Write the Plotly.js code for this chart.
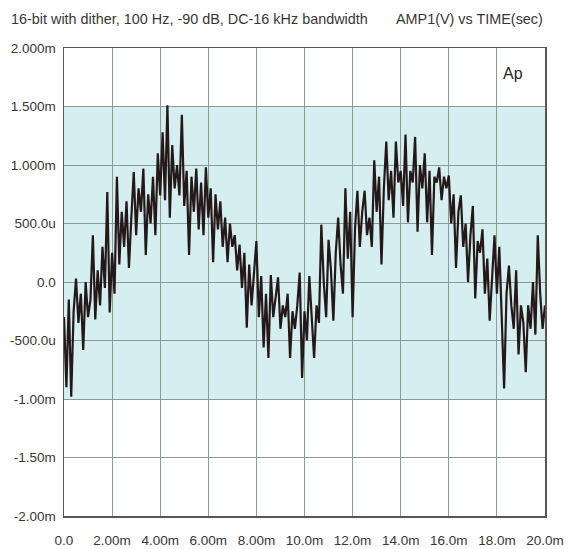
<!DOCTYPE html>
<html>
<head>
<meta charset="utf-8">
<script src="https://cdn.plot.ly/plotly-3.0.1.min.js"></script>
<style>html,body{margin:0;padding:0;background:#fff;}#chart{width:572px;height:549px;}</style>
</head>
<body>
<div id="chart"></div>
<script>
// Time axis in ms, amplitude in mV
const timeStepMs = 0.1;
const amplitudeMv = [
 -0.30,-0.90,-0.15,-0.98,-0.25, 0.03,-0.35,-0.10,-0.58, 0.00,
 -0.30,-0.15, 0.40,-0.32, 0.10,-0.20, 0.30,-0.05, 0.77,-0.26,
  0.25,-0.10, 0.90, 0.15, 0.60, 0.30, 0.69, 0.12, 0.55, 0.94,
  0.40, 0.80, 0.60, 0.97, 0.23, 0.75, 0.50, 0.90, 0.40, 1.10,
  0.74, 1.28, 0.70, 1.51, 0.55, 1.17, 0.80, 1.00, 0.74, 1.43,
  0.65, 0.95, 0.23, 0.90, 0.60, 0.97, 0.45, 0.85, 0.40, 0.98,
  0.55, 0.80, 0.17, 0.75, 0.45, 0.69, 0.30, 0.55, 0.17, 0.50,
  0.30, 0.40, 0.10, 0.32,-0.05, 0.25,-0.39, 0.15,-0.20, 0.10,
  0.35,-0.30, 0.05,-0.56,-0.10,-0.65, 0.06,-0.30,-0.15, 0.04,
 -0.40,-0.20,-0.30,-0.10,-0.65,-0.25,-0.40,-0.20, 0.08,-0.82,
 -0.25,-0.50, 0.05,-0.30,-0.65,-0.20,-0.35, 0.49, 0.00,-0.30,
  0.36, 0.10,-0.33, 0.25, 0.55, 0.15,-0.10, 0.80, 0.20, 0.60,
 -0.30, 0.45, 0.78, 0.30, 0.60, 0.78, 0.40, 0.55, 0.30, 1.04,
  0.60, 0.90, 0.15, 0.80, 1.20, 0.70, 0.95, 0.55, 1.20, 0.85,
  0.95, 0.65, 1.26, 0.51, 0.95, 0.85, 1.24, 0.43, 1.00, 0.80,
  1.10, 0.51, 0.95, 0.23, 0.90, 0.85, 0.98, 0.70, 0.90, 0.80,
  0.91, 0.50, 0.75, 0.12, 0.60, 0.74, 0.30, 0.50, 0.00, 0.40,
  0.65,-0.14, 0.35, 0.25, 0.45,-0.10, 0.20,-0.33, 0.05, 0.40,
 -0.10, 0.30,-0.30,-0.91,-0.10, 0.14,-0.20,-0.40, 0.10,-0.62,
 -0.20,-0.35,-0.77,-0.20,-0.40, 0.00,-0.45, 0.40,-0.10,-0.40,
 -0.20
];
const timeMs = amplitudeMv.map((_, i) => +(i * timeStepMs).toFixed(2));

const xTickVals = [0,2,4,6,8,10,12,14,16,18,20];
const xTickText = ['0.0','2.00m','4.00m','6.00m','8.00m','10.0m','12.0m','14.0m','16.0m','18.0m','20.0m'];
const yTickVals = [2,1.5,1,0.5,0,-0.5,-1,-1.5,-2];
const yTickText = ['2.000m','1.500m','1.000m','500.0u','0.0','-500.0u','-1.00m','-1.50m','-2.00m'];
const shadedBand = [-1, 1.5];

const fam = '"Liberation Sans", Arial, sans-serif';
const tickFont = {family:fam, size:13.5, color:'#3a3535'};
const titleFont = {family:fam, size:14.4, color:'#3a3535'};

Plotly.newPlot('chart', [{
  x: timeMs, y: amplitudeMv, type:'scatter', mode:'lines',
  line:{color:'#241818', width:2.2}, hoverinfo:'skip'
}], {
  width:572, height:549,
  margin:{l:64, r:27, t:48, b:33},
  paper_bgcolor:'#ffffff', plot_bgcolor:'#ffffff',
  showlegend:false,
  font: tickFont,
  xaxis:{range:[0,20], tickvals:xTickVals, ticktext:xTickText, showgrid:true,
    gridcolor:'#8d9898', gridwidth:1, zeroline:false, showline:true, mirror:true,
    linecolor:'#5a5555', linewidth:1.5, ticks:'', tickfont:tickFont, ticklabelstandoff:11},
  yaxis:{range:[-2,2], tickvals:yTickVals, ticktext:yTickText, showgrid:true,
    gridcolor:'#8d9898', gridwidth:1, zeroline:false, showline:true, mirror:true,
    linecolor:'#5a5555', linewidth:1.5, ticks:'', tickfont:tickFont, ticklabelstandoff:4},
  shapes:[{type:'rect', xref:'x', yref:'y', x0:0, x1:20, y0:shadedBand[0], y1:shadedBand[1],
    fillcolor:'#d5eef0', line:{width:0}, layer:'below'}],
  annotations:[
    {text:'16-bit with dither, 100 Hz, -90 dB, DC-16 kHz bandwidth', xref:'paper', yref:'paper',
     x:-0.114, y:1.062, xanchor:'left', yanchor:'middle', showarrow:false, font:titleFont},
    {text:'AMP1(V) vs TIME(sec)', xref:'paper', yref:'paper', x:1.0, y:1.062,
     xanchor:'right', yanchor:'middle', showarrow:false, font:titleFont},
    {text:'Ap', xref:'paper', yref:'paper', x:0.958, y:0.945, xanchor:'right', yanchor:'middle',
     showarrow:false, font:{family:fam, size:16, color:'#2a2525'}}
  ]
}, {displayModeBar:false, staticPlot:true});
</script>
</body>
</html>
